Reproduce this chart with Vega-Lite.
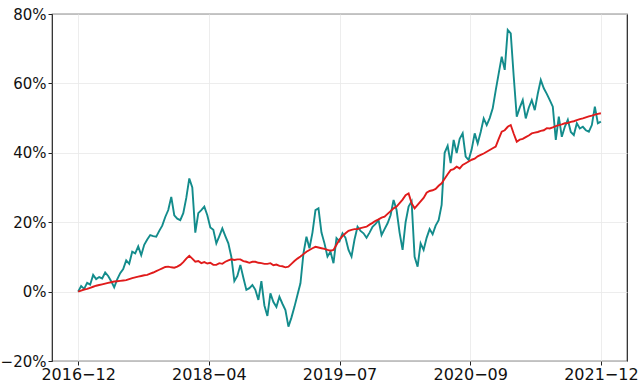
{
  "$schema": "https://vega.github.io/schema/vega-lite/v6.json",
  "autosize": "none",
  "width": 575,
  "height": 347,
  "padding": {"left": 52, "top": 14, "right": 13, "bottom": 22},
  "background": "white",
  "config": {
    "view": {"stroke": "#222222", "strokeWidth": 1.2},
    "axis": {
      "labelFont": "DejaVu Sans",
      "labelFontSize": 16,
      "labelColor": "#111111",
      "gridColor": "#e8e8e8",
      "gridWidth": 0.8,
      "tickColor": "#222222",
      "tickSize": 4,
      "domain": false,
      "title": null
    }
  },
  "data": {
    "values": [
      {"i":0,"A":0,"B":0},{"i":1,"A":1.6,"B":0.3},{"i":2,"A":0.8,"B":0.6},{"i":3,"A":2.5,"B":0.8},{"i":4,"A":2.0,"B":1.1},
      {"i":5,"A":4.8,"B":1.4},{"i":6,"A":3.6,"B":1.7},{"i":7,"A":4.2,"B":1.9},{"i":8,"A":3.8,"B":2.1},{"i":9,"A":5.5,"B":2.3},
      {"i":10,"A":4.5,"B":2.5},{"i":11,"A":3.0,"B":2.7},{"i":12,"A":1.2,"B":2.9},{"i":13,"A":3.5,"B":3.0},{"i":14,"A":5.3,"B":3.1},
      {"i":15,"A":6.5,"B":3.2},{"i":16,"A":9.0,"B":3.3},{"i":17,"A":8.0,"B":3.6},{"i":18,"A":11.5,"B":3.9},{"i":19,"A":11.0,"B":4.1},
      {"i":20,"A":13.0,"B":4.3},{"i":21,"A":10.5,"B":4.5},{"i":22,"A":13.5,"B":4.7},{"i":23,"A":15.0,"B":4.8},{"i":24,"A":16.3,"B":5.2},
      {"i":25,"A":16.0,"B":5.5},{"i":26,"A":15.8,"B":5.9},{"i":27,"A":17.5,"B":6.3},{"i":28,"A":19.0,"B":6.7},{"i":29,"A":21.5,"B":7.1},
      {"i":30,"A":23.5,"B":7.2},{"i":31,"A":27.3,"B":7.0},{"i":32,"A":22.0,"B":6.9},{"i":33,"A":21.0,"B":7.2},{"i":34,"A":20.6,"B":7.7},
      {"i":35,"A":22.6,"B":8.5},{"i":36,"A":27.0,"B":9.5},{"i":37,"A":32.6,"B":10.3},{"i":38,"A":30.0,"B":9.5},{"i":39,"A":17.0,"B":8.6},
      {"i":40,"A":22.6,"B":8.8},{"i":41,"A":23.5,"B":8.2},{"i":42,"A":24.5,"B":8.5},{"i":43,"A":22.0,"B":8.1},{"i":44,"A":18.5,"B":8.3},
      {"i":45,"A":17.8,"B":7.7},{"i":46,"A":13.9,"B":7.7},{"i":47,"A":16.0,"B":8.2},{"i":48,"A":18.2,"B":8.0},{"i":49,"A":16.0,"B":8.6},
      {"i":50,"A":13.9,"B":9.0},{"i":51,"A":10.0,"B":9.3},{"i":52,"A":3.0,"B":9.1},{"i":53,"A":4.5,"B":9.3},{"i":54,"A":7.7,"B":9.3},
      {"i":55,"A":4.0,"B":8.8},{"i":56,"A":0.5,"B":8.6},{"i":57,"A":1.0,"B":8.3},{"i":58,"A":1.9,"B":8.6},{"i":59,"A":0.5,"B":8.6},
      {"i":60,"A":-2.4,"B":8.3},{"i":61,"A":3.0,"B":8.2},{"i":62,"A":-4.0,"B":8.0},{"i":63,"A":-7.0,"B":8.0},{"i":64,"A":-0.5,"B":8.2},
      {"i":65,"A":-3.0,"B":7.6},{"i":66,"A":-4.4,"B":7.8},{"i":67,"A":-1.5,"B":7.4},{"i":68,"A":-3.5,"B":7.3},{"i":69,"A":-5.3,"B":7.0},
      {"i":70,"A":-10.1,"B":7.2},{"i":71,"A":-7.5,"B":8.0},{"i":72,"A":-4.4,"B":8.8},{"i":73,"A":-1.0,"B":9.5},{"i":74,"A":2.4,"B":10.1},
      {"i":75,"A":11.0,"B":10.8},{"i":76,"A":15.8,"B":11.5},{"i":77,"A":12.5,"B":12.0},{"i":78,"A":17.0,"B":12.5},{"i":79,"A":23.5,"B":12.9},
      {"i":80,"A":24.0,"B":12.7},{"i":81,"A":17.0,"B":12.5},{"i":82,"A":13.9,"B":12.3},{"i":83,"A":10.1,"B":12.0},{"i":84,"A":11.5,"B":11.8},
      {"i":85,"A":8.2,"B":12.0},{"i":86,"A":15.4,"B":13.5},{"i":87,"A":14.5,"B":15.0},{"i":88,"A":16.8,"B":16.0},{"i":89,"A":15.5,"B":16.8},
      {"i":90,"A":12.0,"B":17.5},{"i":91,"A":10.1,"B":17.8},{"i":92,"A":15.0,"B":18.0},{"i":93,"A":18.7,"B":18.0},{"i":94,"A":17.5,"B":18.3},
      {"i":95,"A":16.8,"B":18.5},{"i":96,"A":15.5,"B":18.7},{"i":97,"A":17.0,"B":19.3},{"i":98,"A":18.7,"B":19.8},{"i":99,"A":19.5,"B":20.4},
      {"i":100,"A":20.6,"B":20.8},{"i":101,"A":16.3,"B":21.3},{"i":102,"A":18.0,"B":21.6},{"i":103,"A":19.7,"B":22.4},{"i":104,"A":22.0,"B":23.2},
      {"i":105,"A":26.4,"B":24.0},{"i":106,"A":23.5,"B":24.5},{"i":107,"A":17.0,"B":25.5},{"i":108,"A":12.0,"B":26.5},{"i":109,"A":20.0,"B":27.8},
      {"i":110,"A":24.5,"B":28.3},{"i":111,"A":26.0,"B":25.5},{"i":112,"A":10.0,"B":24.0},{"i":113,"A":7.2,"B":25.0},{"i":114,"A":13.9,"B":26.0},
      {"i":115,"A":12.0,"B":27.0},{"i":116,"A":15.5,"B":28.5},{"i":117,"A":18.0,"B":29.0},{"i":118,"A":16.5,"B":29.2},{"i":119,"A":19.0,"B":29.6},
      {"i":120,"A":20.6,"B":30.5},{"i":121,"A":25.0,"B":31.2},{"i":122,"A":40.0,"B":32.5},{"i":123,"A":42.0,"B":33.8},{"i":124,"A":37.0,"B":35.0},
      {"i":125,"A":43.7,"B":35.3},{"i":126,"A":39.9,"B":36.0},{"i":127,"A":44.0,"B":35.5},{"i":128,"A":45.6,"B":36.5},{"i":129,"A":38.9,"B":37.0},
      {"i":130,"A":37.9,"B":37.5},{"i":131,"A":41.0,"B":38.0},{"i":132,"A":45.6,"B":38.3},{"i":133,"A":42.7,"B":39.0},{"i":134,"A":46.0,"B":39.4},
      {"i":135,"A":49.9,"B":39.8},{"i":136,"A":48.0,"B":40.3},{"i":137,"A":50.0,"B":40.8},{"i":138,"A":52.8,"B":41.3},{"i":139,"A":58.0,"B":41.8},
      {"i":140,"A":62.9,"B":44.0},{"i":141,"A":67.7,"B":46.1},{"i":142,"A":63.9,"B":46.5},{"i":143,"A":75.4,"B":47.5},{"i":144,"A":74.4,"B":48.0},
      {"i":145,"A":61.9,"B":45.5},{"i":146,"A":50.4,"B":43.2},{"i":147,"A":53.0,"B":43.8},{"i":148,"A":55.2,"B":44.0},{"i":149,"A":49.9,"B":44.5},
      {"i":150,"A":53.0,"B":45.0},{"i":151,"A":55.2,"B":45.6},{"i":152,"A":52.3,"B":45.8},{"i":153,"A":57.0,"B":46.0},{"i":154,"A":61.0,"B":46.3},
      {"i":155,"A":58.6,"B":46.5},{"i":156,"A":57.0,"B":47.1},{"i":157,"A":55.2,"B":47.0},{"i":158,"A":53.3,"B":47.3},{"i":159,"A":43.7,"B":47.7},
      {"i":160,"A":50.4,"B":48.0},{"i":161,"A":44.6,"B":48.2},{"i":162,"A":47.5,"B":48.5},{"i":163,"A":49.5,"B":48.6},{"i":164,"A":46.0,"B":48.9},
      {"i":165,"A":45.1,"B":49.1},{"i":166,"A":48.5,"B":49.4},{"i":167,"A":47.0,"B":49.7},{"i":168,"A":47.5,"B":49.9},{"i":169,"A":46.5,"B":50.2},
      {"i":170,"A":46.1,"B":50.5},{"i":171,"A":48.0,"B":50.7},{"i":172,"A":53.3,"B":51.0},{"i":173,"A":48.5,"B":51.2},{"i":174,"A":49.0,"B":51.4}
    ]
  },
  "transform": [{"fold": ["A", "B"], "as": ["s", "v"]}],
  "mark": {"type": "line", "strokeWidth": 1.9, "clip": true},
  "encoding": {
    "x": {
      "field": "i",
      "type": "quantitative",
      "scale": {"domain": [-8.7, 182.7], "nice": false, "zero": false},
      "axis": {
        "values": [0, 43.5, 87, 130.5, 174],
        "labelExpr": "datum.value == 0 ? '2016−12' : datum.value == 43.5 ? '2018−04' : datum.value == 87 ? '2019−07' : datum.value == 130.5 ? '2020−09' : '2021−12'",
        "labelPadding": 1,
        "labelFlush": false
      }
    },
    "y": {
      "field": "v",
      "type": "quantitative",
      "scale": {"domain": [-20, 80], "nice": false},
      "axis": {
        "values": [-20, 0, 20, 40, 60, 80],
        "labelExpr": "replace(format(datum.value, 'd'), '-', '−') + '%'",
        "labelFontSize": 15,
        "labelPadding": 2
      }
    },
    "color": {
      "field": "s",
      "type": "nominal",
      "scale": {"domain": ["A", "B"], "range": ["#138c8c", "#e01b1b"]},
      "legend": null
    },
    "order": {"field": "i"}
  }
}
